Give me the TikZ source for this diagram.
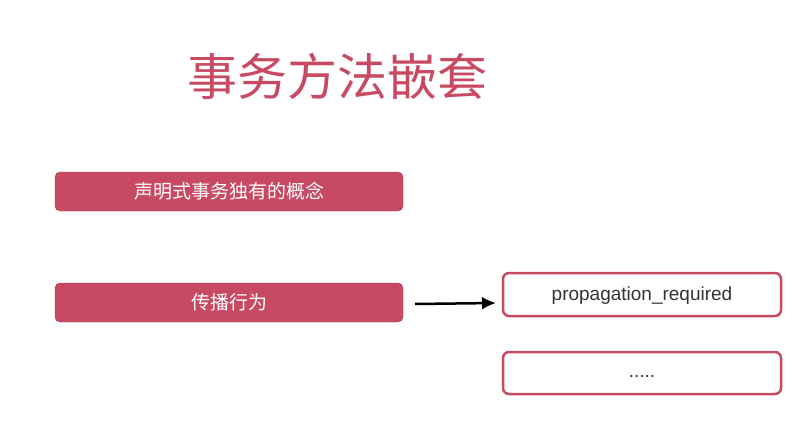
\documentclass[tikz,border=0pt]{standalone}
\usepackage{fontspec}
\usetikzlibrary{arrows.meta}
\setmainfont{Liberation Sans}
\newfontfamily\cjk{Noto Sans CJK SC}
\definecolor{pk}{HTML}{C84A62}
\begin{document}
\begin{tikzpicture}[x=1pt,y=-1pt,
  fillbox/.style={fill=pk,draw=pk!80!black,rounded corners=5pt},
  linebox/.style={draw=pk,line width=2.5pt,fill=white,rounded corners=6pt},
  wtxt/.style={text=white,font=\cjk\fontsize{19}{22}\selectfont},
  dtxt/.style={text=black!80,font=\fontsize{19}{22}\selectfont}]
\useasboundingbox (0,0) rectangle (806,436);
\node[text=pk,font=\cjk\fontsize{50}{56}\selectfont] (title) at (337,76) {事务方法嵌套};
\path[fillbox] (55,172) rectangle (403,211);
\node[wtxt] (b1) at (229,191.5) {声明式事务独有的概念};
\path[fillbox] (55,283) rectangle (403,322);
\node[wtxt] (b2) at (229,302.5) {传播行为};
\coordinate (b2e) at (403,304);
\path[linebox] (503,273) rectangle (781,316);
\node[dtxt] (b3) at (642,296) {propagation\_required};
\coordinate (b3w) at (503,303);
\path[linebox] (503,352) rectangle (781,394);
\node[dtxt] (b4) at (642,376) {.....};
\draw[line width=2.5pt,-{Latex[length=14pt,width=13pt]}] ([xshift=12pt]b2e) -- ([xshift=-7pt]b3w);
\end{tikzpicture}
\end{document}
